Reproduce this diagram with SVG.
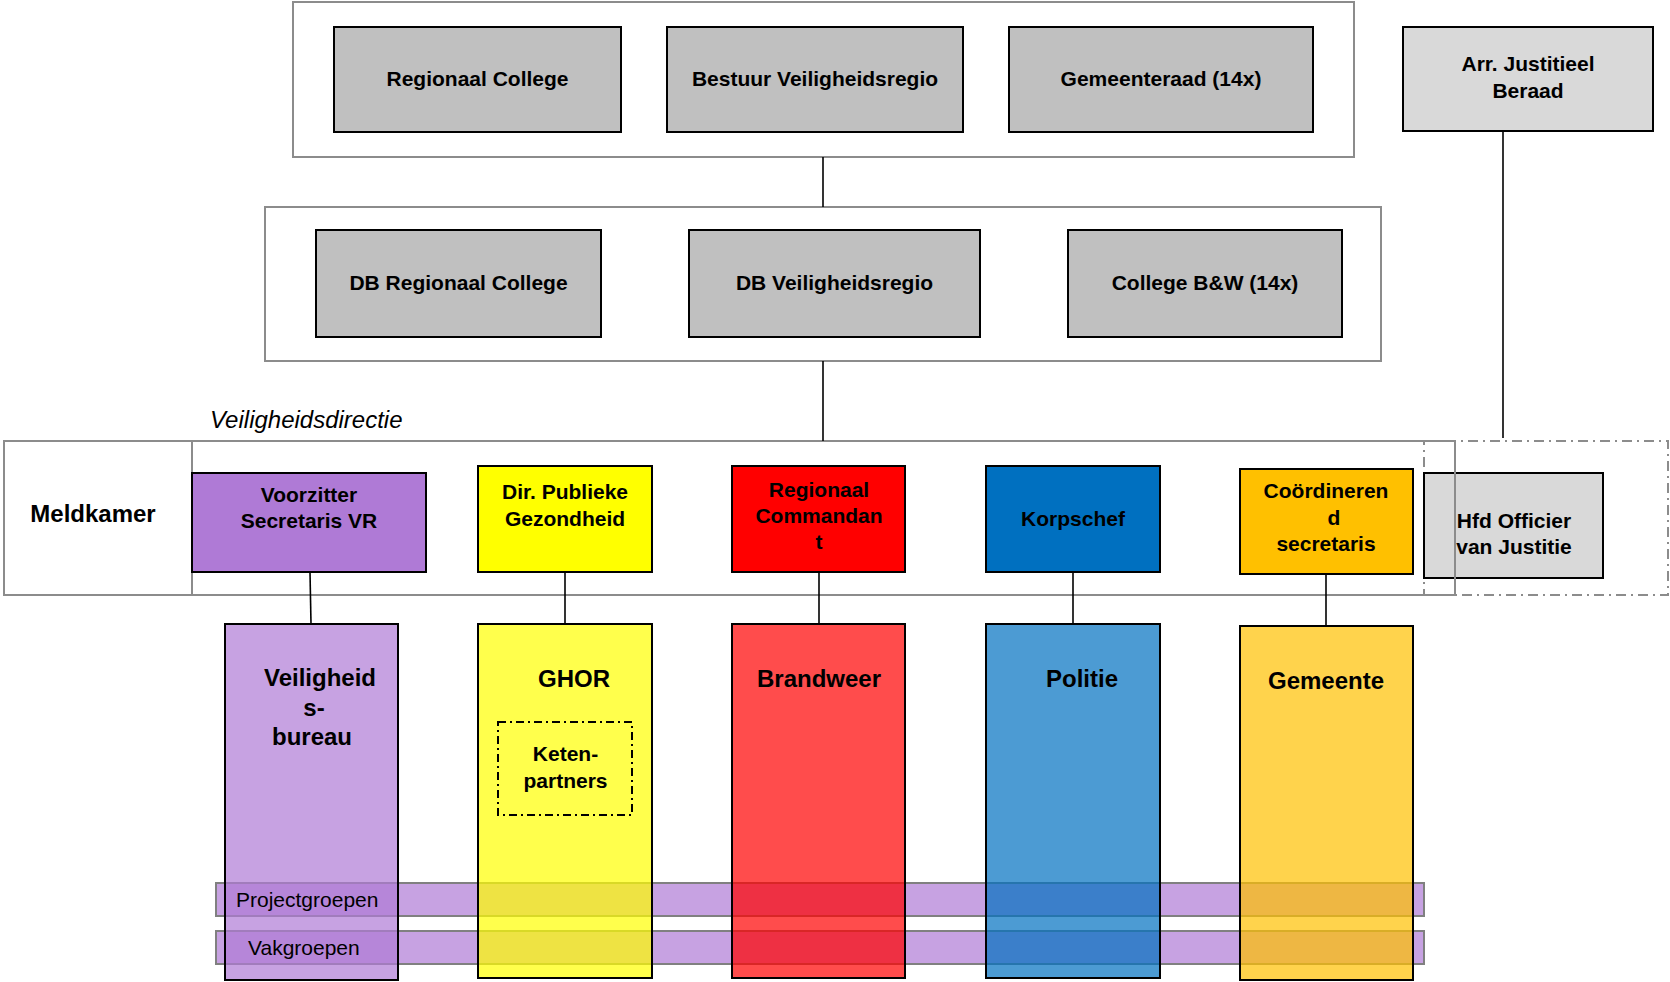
<svg xmlns="http://www.w3.org/2000/svg" width="1670" height="982" viewBox="0 0 1670 982">
<style>
.frame{fill:#fff;stroke:#8c8c8c;stroke-width:2}
.gray{fill:#c0c0c0;stroke:#000;stroke-width:2}
.lgray{fill:#d9d9d9;stroke:#000;stroke-width:2}
.hdr{stroke:#000;stroke-width:2}
.col{stroke:#000;stroke-width:2;fill-opacity:0.7}
.band{fill:#af7ad6;fill-opacity:0.7;stroke:#808080;stroke-width:2}
.conn{stroke:#000;stroke-width:1.6;fill:none}
text{font-family:"Liberation Sans",Arial,sans-serif;fill:#000}
.b{font-weight:bold;font-size:21px;text-anchor:middle}
.b24{font-weight:bold;font-size:24px;text-anchor:middle}
.reg{font-size:21px}
.it{font-style:italic;font-size:24px}
</style>
<g id="frames">
<rect class="frame" x="293" y="2" width="1061" height="155"/>
<rect class="frame" x="265" y="207" width="1116" height="154"/>
<rect class="frame" x="192" y="441" width="1263" height="154"/>
</g>
<text class="it" x="210" y="428">Veiligheidsdirectie</text>
<g id="connectors">
<line class="conn" x1="823" y1="157" x2="823" y2="207"/>
<line class="conn" x1="823" y1="361" x2="823" y2="441"/>
<line class="conn" x1="1503" y1="131" x2="1503" y2="438"/>
<line class="conn" x1="310" y1="572" x2="311" y2="624"/>
<line class="conn" x1="565" y1="572" x2="565" y2="624"/>
<line class="conn" x1="819" y1="572" x2="819" y2="624"/>
<line class="conn" x1="1073" y1="572" x2="1073" y2="624"/>
<line class="conn" x1="1326" y1="574" x2="1326" y2="626"/>
</g>
<g id="regionaal-college"><rect class="gray" x="334" y="27" width="287" height="105"/><text class="b" x="477.5" y="86">Regionaal College</text></g>
<g id="bestuur-vr"><rect class="gray" x="667" y="27" width="296" height="105"/><text class="b" x="815" y="86">Bestuur Veiligheidsregio</text></g>
<g id="gemeenteraad"><rect class="gray" x="1009" y="27" width="304" height="105"/><text class="b" x="1161" y="86">Gemeenteraad (14x)</text></g>
<g id="arr-justitieel"><rect class="lgray" x="1403" y="27" width="250" height="104"/><text class="b" x="1528" y="71">Arr. Justitieel</text><text class="b" x="1528" y="98">Beraad</text></g>
<g id="db-rc"><rect class="gray" x="316" y="230" width="285" height="107"/><text class="b" x="458.5" y="290">DB Regionaal College</text></g>
<g id="db-vr"><rect class="gray" x="689" y="230" width="291" height="107"/><text class="b" x="834.5" y="290">DB Veiligheidsregio</text></g>
<g id="college-bw"><rect class="gray" x="1068" y="230" width="274" height="107"/><text class="b" x="1205" y="290">College B&amp;W (14x)</text></g>
<g id="meldkamer"><rect class="frame" x="4" y="441" width="188" height="154"/><text class="b24" x="93" y="522">Meldkamer</text></g>
<g id="hfd-ovj-frame"><rect x="1424" y="441" width="244" height="154" fill="none" stroke="#8c8c8c" stroke-width="2" stroke-dasharray="10,5,2,5"/></g>
<g id="bands">
<rect class="band" x="216" y="883" width="1208" height="33"/>
<rect class="band" x="216" y="931" width="1208" height="33"/>
</g>
<g id="veiligheidsbureau"><rect class="col" fill="#af7ad6" x="225" y="624" width="173" height="356"/></g>
<g id="ghor"><rect class="col" fill="#ffff00" x="478" y="624" width="174" height="354"/></g>
<g id="brandweer"><rect class="col" fill="#ff0000" x="732" y="624" width="173" height="354"/></g>
<g id="politie"><rect class="col" fill="#0070c0" x="986" y="624" width="174" height="354"/></g>
<g id="gemeente"><rect class="col" fill="#ffc000" x="1240" y="626" width="173" height="354"/></g>
<g id="col-labels">
<text class="b24" x="320" y="686">Veiligheid</text>
<text class="b24" x="314" y="716">s-</text>
<text class="b24" x="312" y="745">bureau</text>
<text class="b24" x="574" y="687">GHOR</text>
<text class="b24" x="819" y="687">Brandweer</text>
<text class="b24" x="1082" y="687">Politie</text>
<text class="b24" x="1326" y="689">Gemeente</text>
</g>
<g id="ketenpartners"><rect x="498" y="722" width="134" height="93" fill="none" stroke="#000" stroke-width="2" stroke-dasharray="8,4,2,4"/><text class="b" x="565.5" y="761">Keten-</text><text class="b" x="565.5" y="788">partners</text></g>
<g id="band-labels">
<text class="reg" x="236" y="907">Projectgroepen</text>
<text class="reg" x="248" y="955">Vakgroepen</text>
</g>
<g id="voorzitter"><rect class="hdr" fill="#af7ad6" x="192" y="473" width="234" height="99"/><text class="b" x="309" y="502">Voorzitter</text><text class="b" x="309" y="528">Secretaris VR</text></g>
<g id="dir-publieke"><rect class="hdr" fill="#ffff00" x="478" y="466" width="174" height="106"/><text class="b" x="565" y="499">Dir. Publieke</text><text class="b" x="565" y="526">Gezondheid</text></g>
<g id="regionaal-commandant"><rect class="hdr" fill="#ff0000" x="732" y="466" width="173" height="106"/><text class="b" x="819" y="497">Regionaal</text><text class="b" x="819" y="523">Commandan</text><text class="b" x="819" y="549">t</text></g>
<g id="korpschef"><rect class="hdr" fill="#0070c0" x="986" y="466" width="174" height="106"/><text class="b" x="1073" y="526">Korpschef</text></g>
<g id="coordinerend"><rect class="hdr" fill="#ffc000" x="1240" y="469" width="173" height="105"/><text class="b" x="1326" y="498">Coördineren</text><text class="b" x="1334" y="525">d</text><text class="b" x="1326" y="551">secretaris</text></g>
<g id="hfd-ovj"><rect class="lgray" x="1424" y="473" width="179" height="105"/><text class="b" x="1514" y="528">Hfd Officier</text><text class="b" x="1514" y="554">van Justitie</text></g>
<line x1="1455" y1="441" x2="1455" y2="595" stroke="#8c8c8c" stroke-width="2"/>
</svg>
